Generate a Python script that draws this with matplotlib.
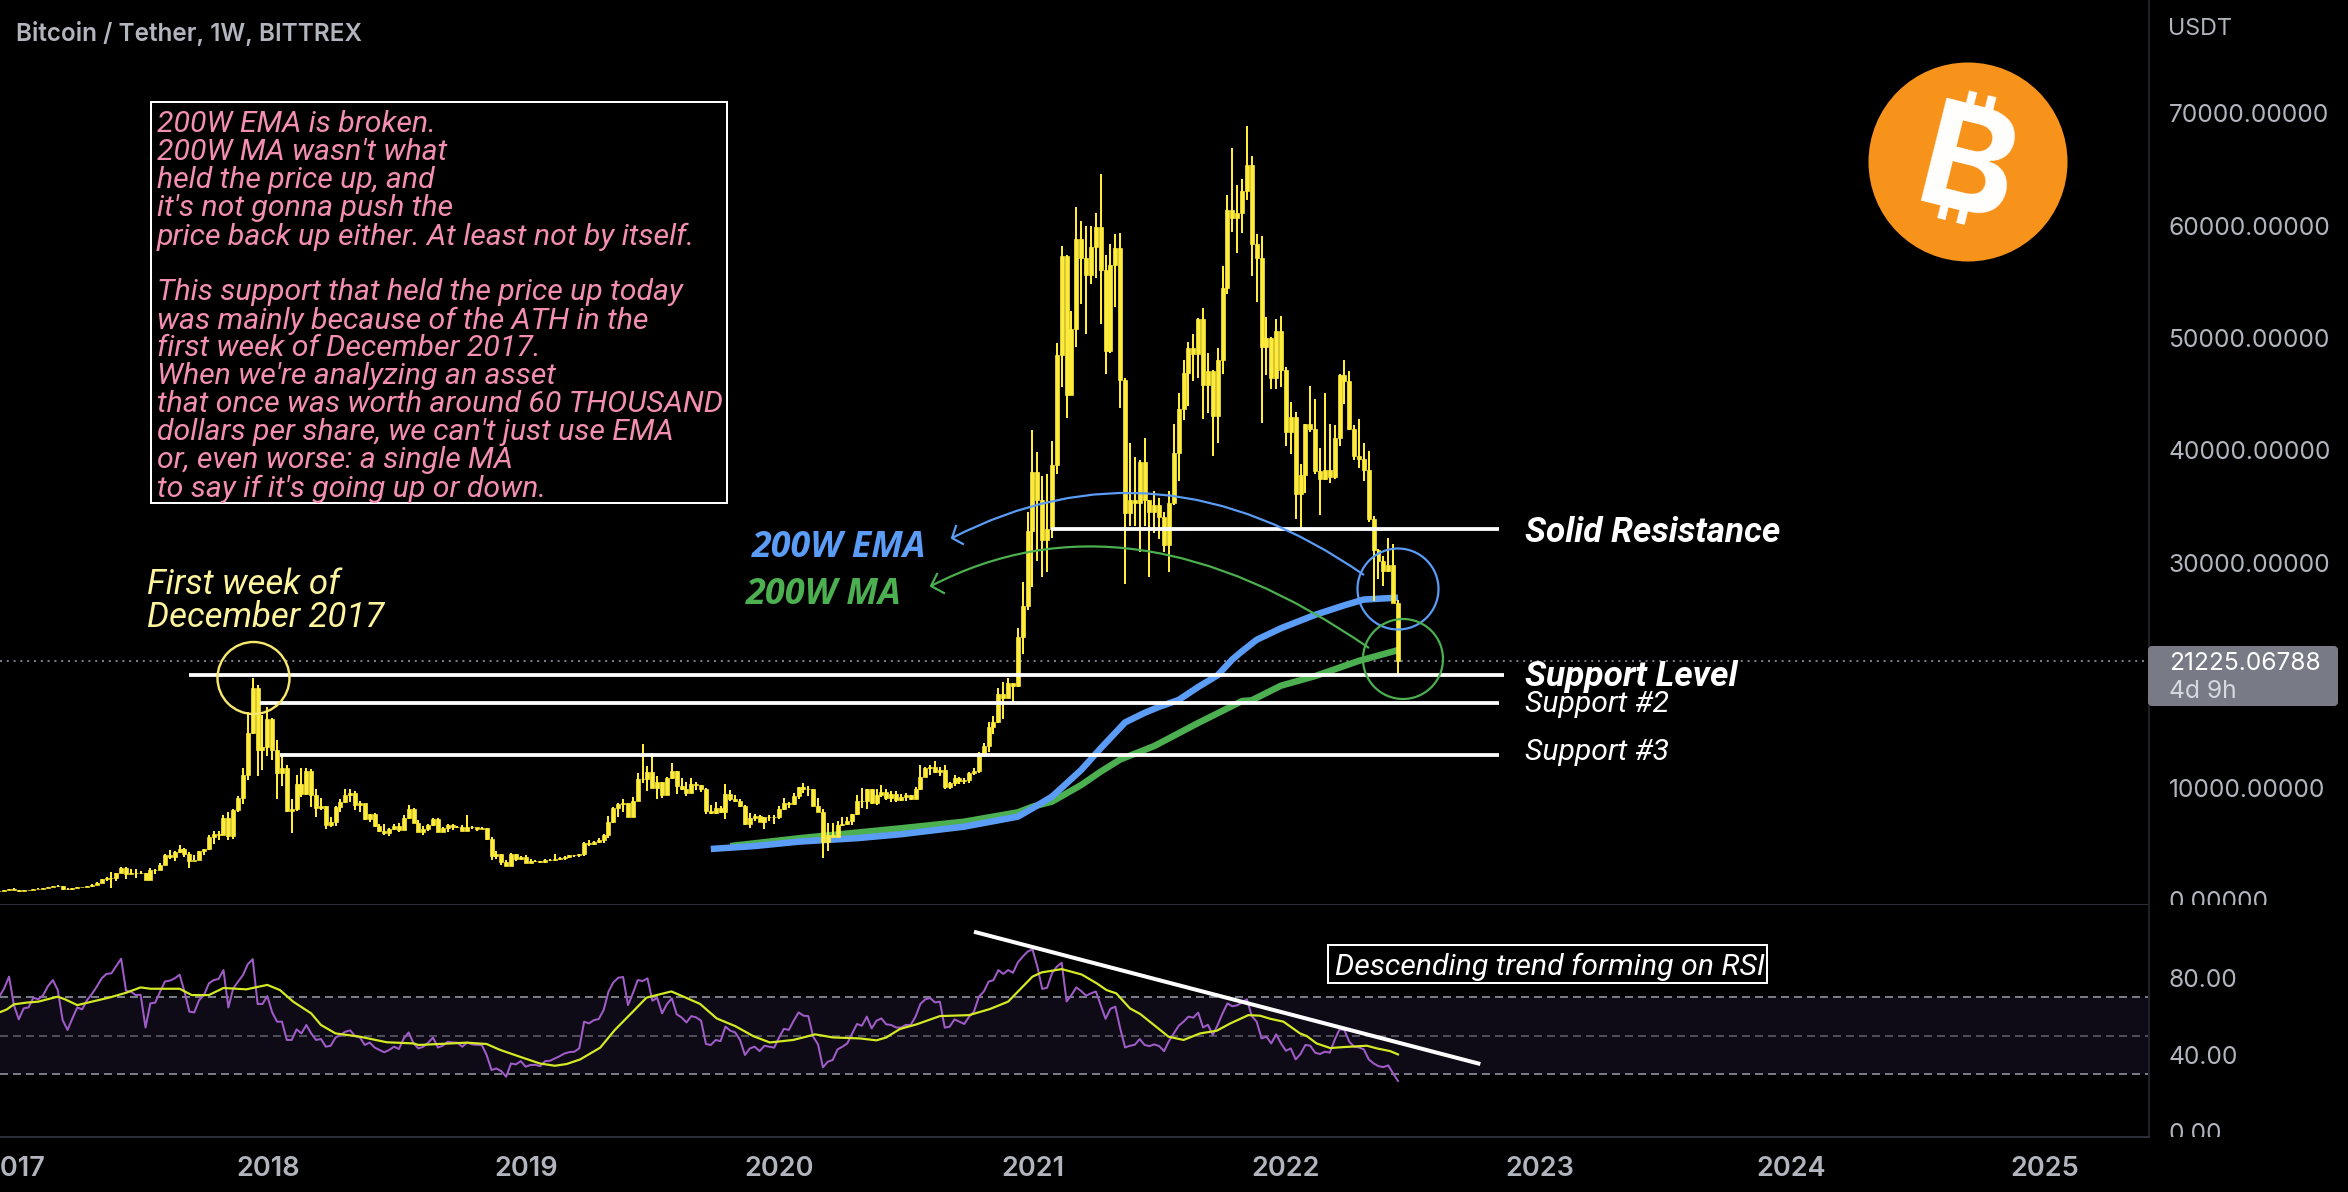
import matplotlib
matplotlib.use("Agg")
import matplotlib.pyplot as plt
from matplotlib.patches import Circle, PathPatch, Rectangle, FancyBboxPatch
from matplotlib.path import Path
from matplotlib.transforms import Bbox
import numpy as np

# weekly candles, week 0 = 2016-12-12. open of a week is the close of the week before
close = [780,880,950,900,820,900,920,1000,1000,1060,
    1170,1250,1230,1010,960,1050,1170,1170,1220,1350,
    1550,1830,2000,1950,2380,2880,2340,2370,2430,2370,
    1780,2670,2670,3140,4000,3850,4300,4540,4060,3470,
    3560,4360,4510,5640,5870,5780,7330,5720,8010,9100,
    11120,14890,18860,13350,13580,16100,13350,11330,11720,7950,
    8100,10320,9430,11480,9340,8160,8390,6670,6970,8300,
    8690,9340,9490,8450,8600,7180,7650,6580,6170,5930,
    6350,6610,6230,7330,8070,6880,6080,6300,6700,7240,
    6080,6400,6640,6530,6500,6170,6500,6470,6350,6400,
    5470,3920,4090,3380,3060,4090,3680,3850,3320,3500,
    3440,3400,3560,3600,3640,3760,3830,3980,3970,4060,
    5100,5020,5200,5340,5780,6940,8150,8540,8600,7415,
    8840,10770,10730,11420,9995,10530,9340,10885,11480,10140,
    9850,9550,10290,10200,9900,7950,7710,8150,7860,9430,
    8960,8800,8360,6760,7270,7470,6970,7350,7350,7350,
    8100,8660,8570,9250,10020,9900,9880,8360,7860,5160,
    5750,5630,6670,6760,7000,7620,8780,8810,9850,8600,
    9340,9600,9050,9400,8900,9190,9340,9020,9900,10970,
    11715,11860,11420,11570,10025,10380,10830,10620,10680,11330,
    11510,13050,13700,15420,15870,18300,17940,19340,19040,23370,
    26160,32860,38070,35580,32000,33000,38700,48520,57300,44950,
    50840,58840,57140,55640,58060,59860,56010,48860,56460,58050,
    46300,34460,35580,35340,38990,35590,34560,35100,34050,31600,
    35300,39740,43650,46890,49100,48620,51650,45800,47100,43070,
    48000,54480,61360,60700,61100,63100,65380,58390,57100,49200,
    49980,46480,50630,47160,41640,42970,36090,37800,42390,41880,
    38130,37450,38300,37620,41100,46720,46200,41880,39500,39260,
    38300,33880,31160,30130,29280,29790,26460,21225.07]

high = [800,900,980,1030,920,910,930,1020,1030,1070,
    1190,1260,1300,1250,1100,1080,1200,1200,1240,1380,
    1580,1840,2040,2490,2380,2930,2980,2740,2790,2610,
    2400,2820,2730,3260,4090,4480,4390,4900,4600,4300,
    4000,4400,4570,5770,6120,6180,7590,7830,8100,9250,
    11760,16760,19750,19110,16460,17200,16160,14240,12770,12000,
    8990,11120,11760,11700,11650,9850,9040,8390,7360,8360,
    8960,9850,9850,9700,8810,8540,7650,7750,6760,6760,
    6410,6760,6840,7560,8420,8160,7090,6580,6760,7270,
    7300,6470,6760,6760,6550,6670,7530,6580,6410,6500,
    6410,5600,4360,4090,3560,4150,4090,3920,4000,3620,
    3560,3440,3620,3620,4060,3830,3890,4000,4000,4120,
    5130,5340,5250,5520,5870,7470,8250,8660,8960,8630,
    9190,11270,13880,11920,13050,10990,10530,10940,12190,11480,
    10860,10530,10860,10530,10200,9970,8420,8690,8360,10320,
    9790,9370,9020,8420,7740,7650,7530,7390,7560,7560,
    8360,9080,8750,9550,10080,10380,10140,9880,9080,8100,
    6880,6880,7000,7420,7420,7650,9340,9940,9880,9910,
    9850,10230,9850,9700,9700,9430,9490,9340,10030,12010,
    11860,12010,12370,11860,12010,10530,11120,10970,10830,11420,
    11720,13200,13940,15870,16370,18860,19400,19720,19280,24170,
    28270,34560,41810,39840,37690,37900,40860,49540,58160,57370,
    52440,61630,60440,60000,60000,61120,64630,57370,58330,59250,
    59350,46480,40690,39400,39160,41130,35580,36430,35750,34560,
    36430,42390,45120,48010,49650,50330,51760,52710,48690,47160,
    49100,56420,62750,66910,63610,64120,68850,66160,59250,59080,
    51860,50050,51690,51930,47400,44270,43410,38820,42390,45730,
    44610,40180,45120,42390,42220,46820,48010,47060,42290,42830,
    40620,39910,34120,31260,30580,32240,31670,26730]

low = [750,780,870,880,750,800,880,900,950,970,
    1040,1140,1120,900,920,900,1030,1150,1160,1190,
    1340,1530,1700,1100,1720,2360,1860,2280,1980,2300,
    1780,1780,2320,2650,3140,3680,3460,4190,3860,2850,
    3550,3530,4000,4450,4980,5310,5950,5370,5400,7830,
    8540,10680,14770,11060,11570,12770,12460,9000,10140,7830,
    5990,7950,9190,9340,8300,7350,8000,6320,6500,6610,
    7830,8600,8750,8000,7830,7120,6940,6500,6050,5750,
    5690,6230,6050,6230,7200,6880,6020,5810,6170,6580,
    6050,6050,6050,6230,6410,6140,6140,6350,6140,6350,
    5370,3560,3680,3110,3050,3050,3470,3560,3290,3320,
    3380,3320,3290,3470,3470,3530,3560,3740,3830,3860,
    3920,4800,4920,5040,5040,5490,6820,7420,7860,7360,
    7470,8780,10440,9700,9970,8990,9080,9340,10770,9430,
    9790,9250,9610,9790,9610,7650,7650,7650,7770,7200,
    8840,8690,8300,6670,6410,7030,6940,6320,7030,6760,
    7180,7980,8190,8450,9020,9490,9250,8330,7860,3770,
    4360,5580,5630,6580,6640,6670,7560,8160,8100,8540,
    8420,9190,8900,8750,8750,8840,8840,8900,9020,9790,
    10910,11120,11270,11030,9850,9850,10170,10320,10320,10380,
    11120,11330,12750,13200,14770,15780,16080,17940,17500,18980,
    21890,25810,27850,30200,28700,29210,32180,37900,45630,42900,
    44950,49200,53020,50330,54820,55330,51250,46820,48690,52780,
    43750,28090,33300,33300,30990,33300,28770,32690,32080,30990,
    29210,35170,37280,42730,43920,46210,46440,42800,43310,39500,
    40690,46820,53870,59420,57540,59350,62250,55500,53220,42460,
    46720,45460,45460,45630,40420,39670,33880,32960,36200,41610,
    37900,34220,37350,37110,37450,40350,44090,41810,39160,38410,
    37280,33610,26630,28600,27920,29210,26390,20020]

rsi = [70.2,74.5,80.6,65.8,58.4,64.1,64.6,69.7,68.8,71.0,
    75.7,78.8,73.6,58.0,52.9,58.9,64.6,63.6,68.4,71.6,
    75.4,79.7,82.0,82.3,86.1,89.9,73.3,72.8,71.0,71.2,
    54.2,66.7,67.1,72.8,78.1,78.5,79.7,81.6,72.8,62.4,
    62.0,68.4,71.0,77.1,78.8,79.4,84.0,64.6,74.5,78.0,
    81.4,87.1,89.7,66.4,66.4,70.5,62.0,57.2,57.2,47.7,
    47.7,53.2,51.1,55.5,51.1,47.7,48.2,44.2,44.7,49.0,
    50.3,52.0,52.7,49.7,49.0,45.1,46.4,43.8,42.5,41.3,
    42.5,44.2,43.0,48.5,51.6,45.9,43.3,44.2,46.3,48.9,
    43.8,44.7,46.8,46.4,46.3,44.2,46.4,45.4,45.2,45.1,
    39.9,32.1,32.9,31.5,28.6,35.5,35.0,36.7,33.8,34.7,
    34.8,34.1,36.7,36.9,38.1,39.3,40.7,41.4,41.6,43.3,
    57.2,56.3,58.0,58.6,63.2,72.8,77.6,80.0,80.4,65.8,
    71.9,78.8,78.3,79.7,68.1,69.5,61.5,66.4,69.3,61.0,
    59.4,56.8,60.1,59.4,57.7,45.6,45.1,47.7,47.1,54.6,
    52.5,51.6,47.7,39.9,43.3,44.2,41.9,44.7,44.2,43.7,
    49.0,53.5,52.9,57.7,62.0,60.3,60.1,49.4,45.4,33.5,
    36.4,37.3,42.8,44.2,45.9,51.1,56.0,55.1,59.8,53.7,
    57.7,58.9,55.8,55.5,54.2,54.1,55.5,55.5,59.8,66.4,
    68.8,69.5,67.2,67.6,54.1,54.6,58.4,57.2,56.0,59.8,
    62.4,70.2,72.8,78.0,78.8,84.0,82.0,84.0,82.6,88.0,
    91.0,93.6,94.8,85.8,74.2,74.8,82.3,85.8,87.8,67.7,
    71.0,75.0,73.1,70.7,71.9,72.9,65.8,58.7,63.9,65.0,
    53.7,43.8,44.7,45.2,48.2,45.1,44.5,45.4,44.5,41.9,
    47.1,51.1,55.1,57.2,59.8,59.3,61.9,54.2,55.6,50.3,
    55.5,61.5,66.7,65.2,65.7,67.2,68.8,60.1,57.2,48.5,
    49.4,45.9,50.6,45.9,42.1,43.3,37.6,40.4,45.1,44.7,
    41.1,40.4,41.6,41.1,47.7,53.2,52.9,46.8,44.2,43.8,
    42.8,37.6,35.5,34.1,33.6,34.5,30.3,26.4]

# rsi moving average, read at the bends only
rsi_ma_weeks = [0,1.5,3,5.6,8,12,13.5,16,19,22.7,26,29,31,37,39.5,43,46,50.7,55,57.6,60.3,64,66,69,74,
    79.5,85,86,96,100,102.7,106.8,110.9,114,116.4,119.2,123.3,126.3,130,132.8,137.9,140.4,143.8,147.2,
    151,154.7,158.1,162.9,167.4,171.1,176.6,180,182,184.8,188.2,193,199,203.3,207,212,213.9,218,222.1,
    225.2,227.2,229.2,232,234.1,238.2,239.9,243,246.4,249.8,252.6,256.3,258.7,260.8,263.5,266.9,268.3,
    270.3,273.1,275.8,280.6,282.7,285.4,287]
rsi_ma = [62.0,63.5,66.2,67.1,67.6,70.2,68.8,65.8,67.6,69.8,72.2,75.0,74.3,74.3,71.0,71.0,74.7,74.0,76.3,73.6,67.6,61.5,55.5,51.1,49.4,
    46.5,45.9,45.1,46.3,45.6,42.6,39.0,35.5,34.3,35.2,37.6,43.7,52.9,62.4,69.7,72.9,70.2,66.4,58.9,
    54.9,49.7,46.4,47.7,50.6,49.0,48.5,47.5,49.0,53.4,55.8,60.1,60.6,63.8,67.6,80.6,82.8,84.5,81.7,
    77.1,73.6,71.9,64.1,61.2,52.9,49.4,47.7,51.1,52.5,56.3,60.6,60.3,58.7,57.2,51.1,49.7,
    45.9,43.5,44.0,44.7,43.3,41.9,40.2]

# 200W lines, also read at the bends
ema_weeks = [146,155,164,176,185,198,209,212,216,219,222,226,231,235,238,242,246,250,253,255,258,263,270,276,280,287]
ema_200 = [4540,4800,5190,5500,5850,6525,7415,8160,9195,10380,11570,13500,15800,16650,17190,17800,18950,20000,21400,22130,23150,24180,25370,26220,26730,26900]
ma_weeks = [150,164,185,198,209,212,216,219,222,226,230,237,246,255,257,263,270,279,287]
ma_200 = [4800,5490,6380,6970,7800,8300,8750,9490,10230,11420,12500,13700,15750,17700,17770,19070,19920,21280,22230]

last_price = 21225.07
price_ticks = [0,10000,20000,30000,40000,50000,60000,70000]
rsi_ticks = [0,40,80]
year_labels = ["2017","2018","2019","2020","2021","2022","2023","2024","2025"]
year_weeks = [3.0,55.2,108.1,160,212,264,316,367.7,419.7]

# drawn lines: (start week, end week, price)
level_lines = [(215.7,307.8,33040),(39,308.8,20040),(53.5,307.8,17550),(57.6,307.8,12900)]
rsi_trend_weeks = [200,303.9]
rsi_trend_vals = [103.9,35.2]

note_lines = ["200W EMA is broken.","200W MA wasn't what","held the price up, and","it's not gonna push the",
    "price back up either. At least not by itself.","","This support that held the price up today",
    "was mainly because of the ATH in the","first week of December 2017.","When we're analyzing an asset",
    "that once was worth around 60 THOUSAND","dollars per share, we can't just use EMA",
    "or, even worse: a single MA","to say if it's going up or down."]

W, H = 2348, 1192
YELLOW = "#FFEB3B"
GREY = "#b2b5be"
BLUE = "#5b9cf6"
GREEN = "#4caf50"
px = 0.72  # one pixel in points at dpi 100

fig = plt.figure(figsize=(W/100, H/100), dpi=100, facecolor="black")

def pane(top, bottom):
    return fig.add_axes([0, 1-bottom/H, 2149/W, (bottom-top)/H], facecolor="black")

ax = pane(0, 905)
ax2 = pane(905, 1137)

weeks = np.arange(len(close))
close_arr = np.array(close, dtype=float)
open_arr = np.r_[760, close_arr[:-1]]

ax.plot(ma_weeks, ma_200, color=GREEN, lw=6.5*px, solid_capstyle="butt", zorder=2)
ax.plot(ema_weeks, ema_200, color=BLUE, lw=6.5*px, solid_capstyle="butt", zorder=2.1)
ax.vlines(weeks, low, high, color=YELLOW, lw=2*px, zorder=3)
ax.bar(weeks, np.abs(close_arr-open_arr), bottom=np.minimum(close_arr, open_arr), width=0.82,
       color=YELLOW, edgecolor=YELLOW, linewidth=0.5, zorder=3)

ax.axhline(last_price, color="#787b86", lw=2*px, ls=(0, (1, 2.4)), zorder=1)
for start, end, level in level_lines:
    ax.plot([start, end], [level, level], color="white", lw=3.8*px, solid_capstyle="butt", zorder=4)

ax.set_xlim(0.144, 441.1)
ax.set_ylim(-445, 80071)
ax.set_yticks(price_ticks)
ax.set_yticklabels(["%.5f" % t for t in price_ticks])
ax.set_xticks([])

# rsi pane
ax2.axhspan(30, 70, color="#0e0b16", lw=0, zorder=0)
for level, alpha in [(70, 1), (50, 0.6), (30, 1)]:
    ax2.axhline(level, color="#787b86", alpha=alpha, lw=2*px, ls=(0, (4, 2.5)), zorder=1)
ax2.plot(weeks, rsi, color="#a05cc8", lw=2*px, zorder=2)
ax2.plot(rsi_ma_weeks, rsi_ma, color="#d4ea25", lw=2.2*px, zorder=3)
ax2.plot(rsi_trend_weeks, rsi_trend_vals, color="white", lw=4*px, solid_capstyle="butt", zorder=4, clip_on=False)
ax2.set_xlim(0.144, 441.1)
ax2.set_ylim(-2.7, 117.8)
ax2.set_yticks(rsi_ticks)
ax2.set_yticklabels(["%.2f" % t for t in rsi_ticks])
ax2.set_xticks(year_weeks)
ax2.set_xticklabels(year_labels, fontsize=19.5, fontweight="semibold", family="Inter", color=GREY)

for a in (ax, ax2):
    a.yaxis.tick_right()
    a.tick_params(axis="y", length=0, pad=14, labelsize=17.7, labelcolor=GREY)
    a.tick_params(axis="x", length=0, pad=14)
    for lab in a.get_yticklabels():
        lab.set_family("Inter")
        lab.set_verticalalignment("center_baseline")
    for side in ("left", "top"):
        a.spines[side].set_visible(False)
    a.spines["right"].set_color("#1e2028")
    a.spines["right"].set_linewidth(2*px)
    a.spines["bottom"].set_color("#2a2e39")
    a.spines["bottom"].set_linewidth(2*px)

# the 0 labels are cut by the pane border
ax.get_yticklabels()[0].set_clip_on(True)
ax.get_yticklabels()[0].set_clip_box(Bbox([[2150, H-905], [W, H-800]]))
ax2.get_yticklabels()[0].set_clip_on(True)
ax2.get_yticklabels()[0].set_clip_box(Bbox([[2150, H-1137], [W, H-1050]]))

# everything drawn by hand goes on an overlay in pixel coordinates
ov = fig.add_axes([0, 0, 1, 1], facecolor="none")
ov.set_xlim(0, W)
ov.set_ylim(H, 0)
ov.axis("off")

def arc(p0, c, p1, barb1, barb2, color):
    path = Path([p0, c, p1], [Path.MOVETO, Path.CURVE3, Path.CURVE3])
    ov.add_patch(PathPatch(path, fc="none", ec=color, lw=2.2*px))
    ov.plot([barb1[0], p0[0], barb2[0]], [barb1[1], p0[1], barb2[1]], color=color, lw=2.2*px)

arc((952, 538), (1158, 432), (1364, 575), (956, 526), (963, 544), BLUE)
arc((931, 586), (1130, 483), (1369, 648), (937, 574), (944, 593), GREEN)

ov.add_patch(Circle((253.5, 678), 36, fc="none", ec="#f7e76b", lw=2.4*px))
ov.add_patch(Circle((1398, 589), 40.5, fc="none", ec=BLUE, lw=2.2*px))
ov.add_patch(Circle((1403, 659), 40, fc="none", ec=GREEN, lw=2.2*px))

# note box
ov.add_patch(Rectangle((151, 102), 576, 401, fc="black", ec="white", lw=2*px, zorder=5))
for i, line in enumerate(note_lines):
    ov.text(157, 124.5+28*i, line, color="#f48fb1", fontsize=21.8, family="Roboto", style="italic",
            va="center", zorder=6)

ov.text(147, 584, "First week of", color="#fff59d", fontsize=25, family="Roboto", style="italic", va="center")
ov.text(147, 617, "December 2017", color="#fff59d", fontsize=25, family="Roboto", style="italic", va="center")

ov.text(752, 548, "200W EMA", color=BLUE, fontsize=25.8, family="Open Sans", style="italic", weight="bold", va="center")
ov.text(746, 595, "200W MA", color=GREEN, fontsize=26, family="Open Sans", style="italic", weight="bold", va="center")

ov.text(1525, 533, "Solid Resistance", color="white", fontsize=25.3, family="Roboto", style="italic", weight="bold", va="center")
ov.text(1525, 676.5, "Support Level", color="white", fontsize=25.4, family="Roboto", style="italic", weight="bold", va="center")
ov.text(1525, 704, "Support #2", color="white", fontsize=21.7, family="Roboto", style="italic", va="center")
ov.text(1525, 752, "Support #3", color="white", fontsize=21.7, family="Roboto", style="italic", va="center")

ov.add_patch(Rectangle((1328, 945), 439, 38, fc="black", ec="white", lw=2*px, zorder=5))
ov.text(1335, 967, "Descending trend forming on RSI", color="white", fontsize=21.8, family="Roboto", style="italic",
        va="center", zorder=6)

ov.text(16, 34, "Bitcoin / Tether, 1W, BITTREX", color=GREY, fontsize=17.5, family="Inter", weight="semibold", va="center")
ov.text(2168, 29, "USDT", color=GREY, fontsize=16.8, family="Inter", va="center")

# last price tag
ov.add_patch(FancyBboxPatch((2149, 647), 188, 58, boxstyle="round,pad=0,rounding_size=3", fc="#787b86", ec="#787b86", lw=2*px))
ov.text(2169, 663, "21225.06788", color="white", fontsize=17.7, family="Inter", va="center")
ov.text(2169, 691.5, "4d 9h", color="#d6d8de", fontsize=17.7, family="Inter", va="center")

# logo
ov.add_patch(Circle((1968, 162), 99.5, fc="#f7931a", ec="none"))
ov.text(1966, 176, "\u20bf", color="white", fontsize=104,
        family=["Inter", "Noto Sans", "Roboto", "Open Sans", "Lato", "Liberation Sans", "DejaVu Sans"],
        weight="bold", rotation=-14, ha="center", va="center", rotation_mode="anchor")

fig.savefig("out.png", dpi=100, facecolor="black")
